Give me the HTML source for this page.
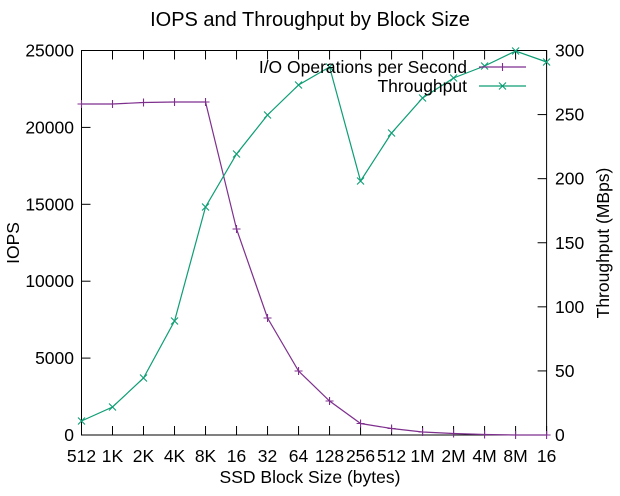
<!DOCTYPE html>
<html><head><meta charset="utf-8"><style>
html,body{margin:0;padding:0;background:#fff;}
svg{display:block;font-family:"Liberation Sans",sans-serif;}
</style></head><body>
<svg id="s" width="620" height="496" xmlns="http://www.w3.org/2000/svg">
<rect width="620" height="496" fill="#fff"/>
<text x="310" y="26" font-size="20" text-anchor="middle">IOPS and Throughput by Block Size</text>
<g id="ax" stroke="#000" stroke-width="1" fill="none"></g>
<g id="lab" font-size="17.5" fill="#000"></g>
<text x="310" y="483" font-size="17.5" text-anchor="middle">SSD Block Size (bytes)</text>
<text transform="translate(19,243) rotate(-90)" font-size="17.5" text-anchor="middle">IOPS</text>
<text transform="translate(609,243) rotate(-90)" font-size="17.5" text-anchor="middle">Throughput (MBps)</text>
<g id="ser"></g>
<text x="467" y="73" font-size="17.5" text-anchor="end">I/O Operations per Second</text>
<text x="467" y="92" font-size="17.5" text-anchor="end">Throughput</text>
</svg>
<script>
var ns="http://www.w3.org/2000/svg";
function el(p,t,a,txt){var e=document.createElementNS(ns,t);for(var k in a)e.setAttribute(k,a[k]);if(txt!=null)e.textContent=txt;p.appendChild(e);return e;}
var ax=document.getElementById('ax'),lab=document.getElementById('lab'),ser=document.getElementById('ser');
var L=81.5,R=546.6,T=50.5,B=435;
el(ax,'rect',{x:L,y:T,width:R-L,height:B-T});
var xl=["512","1K","2K","4K","8K","16","32","64","128","256","512","1M","2M","4M","8M","16"];
var xs=[];for(var i=0;i<16;i++){xs.push(L+(R-L)/15*i);}
xs.forEach(function(x,i){
 el(ax,'line',{x1:x,y1:B,x2:x,y2:B-9});el(ax,'line',{x1:x,y1:T,x2:x,y2:T+9});
 el(lab,'text',{x:x,y:462,'text-anchor':'middle'},xl[i]);
});
for(var j=0;j<=5;j++){var y=B-(B-T)/5*j;
 el(ax,'line',{x1:L,y1:y,x2:L+9,y2:y});
 el(lab,'text',{x:74,y:y+6,'text-anchor':'end'},String(j*5000));}
for(var j=0;j<=6;j++){var y=B-(B-T)/6*j;
 el(ax,'line',{x1:R,y1:y,x2:R-9,y2:y});
 el(lab,'text',{x:555,y:y+6,'text-anchor':'start'},String(j*50));}
var iy=[104,104,102.5,102,102,229,318,371,401,423.5,428.5,432,433.5,434.5,435,435];
var ty=[421,407,378,321,207,154,115,85,67,181,133,98,78,66,51,62];
var c1="#7e2f8e",c2="#0c9e74";
function line(ys,c){var d=xs.map(function(x,i){return x+","+ys[i];}).join(" ");el(ser,'polyline',{points:d,fill:'none',stroke:c,'stroke-width':1.2});}
function plus(x,y,c){el(ser,'path',{d:"M"+(x-4)+" "+y+"h8M"+x+" "+(y-4)+"v8",stroke:c,'stroke-width':1.1,fill:'none'});}
function cross(x,y,c){el(ser,'path',{d:"M"+(x-3.5)+" "+(y-3.5)+"l7 7M"+(x-3.5)+" "+(y+3.5)+"l7 -7",stroke:c,'stroke-width':1.1,fill:'none'});}
line(iy,c1);xs.forEach(function(x,i){plus(x,iy[i],c1);});
line(ty,c2);xs.forEach(function(x,i){cross(x,ty[i],c2);});
el(ser,'line',{x1:479,y1:67,x2:526,y2:67,stroke:c1,'stroke-width':1.2});plus(502.5,67,c1);
el(ser,'line',{x1:479,y1:86,x2:526,y2:86,stroke:c2,'stroke-width':1.2});cross(502.5,86,c2);
</script>
</body></html>
